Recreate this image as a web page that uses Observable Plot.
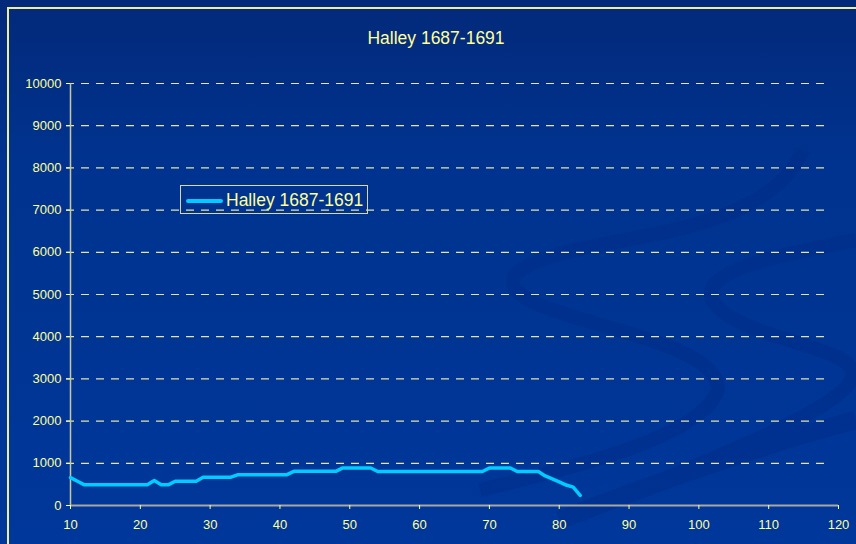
<!DOCTYPE html>
<html>
<head>
<meta charset="utf-8">
<script src="https://cdn.jsdelivr.net/npm/d3@7"></script>
<script src="https://cdn.jsdelivr.net/npm/@observablehq/plot@0.6"></script>
<style>
  html, body { margin: 0; padding: 0; }
  #page {
    position: relative; width: 856px; height: 544px; overflow: hidden;
    background: linear-gradient(to bottom, #03297a 0%, #00338f 30%, #00379a 100%);
    font-family: "Liberation Sans", Arial, sans-serif;
  }
  #frame {
    position: absolute; left: 7px; top: 7px; width: 900px; height: 600px;
    border-top: 2px solid #eeee99; border-left: 2px solid #eeee99;
  }
  #deco { position: absolute; left: 0; top: 0; }
  #title {
    position: absolute; left: 0; top: 28px; width: 872px; text-align: center;
    color: #ffff99; font-size: 17.5px;
  }
  #chart { position: absolute; left: 0; top: 0; }
  #legend {
    position: absolute; left: 180px; top: 185px; width: 188px; height: 29px;
    border: 1px solid #d8d8a0; box-sizing: border-box;
  }
  #legend .swatch {
    position: absolute; left: 5px; top: 13px; width: 37px; height: 4px;
    background: #00ccff; border-radius: 2px;
  }
  #legend .lbl {
    position: absolute; left: 45px; top: 4px; color: #ffff99; font-size: 17.5px;
    white-space: nowrap; line-height: 20px;
  }
</style>
</head>
<body>
<div id="page">
  <svg id="deco" width="856" height="544">
    <g fill="none" stroke="#002b86" stroke-linecap="butt" opacity="0.4">
      <path d="M803,150 C760,250 560,230 515,275 C490,320 720,330 718,390 C700,440 560,470 480,490" stroke-width="14"/>
      <path d="M856,240 C780,255 700,270 712,300 C740,345 880,345 848,385 C820,420 680,470 580,515" stroke-width="14"/>
      <path d="M856,420 C780,440 660,480 560,520" stroke-width="18"/>
    </g>
  </svg>
  <div id="frame"></div>
  <div id="title">Halley 1687-1691</div>
  <div id="chart"></div>
  <div id="legend"><div class="swatch"></div><div class="lbl">Halley 1687-1691</div></div>
</div>
<script>
// Data
const ages = [10,11,12,13,14,15,16,17,18,19,20,21,22,23,24,25,26,27,28,29,30,31,32,33,34,35,36,37,38,39,40,41,42,43,44,45,46,47,48,49,50,51,52,53,54,55,56,57,58,59,60,61,62,63,64,65,66,67,68,69,70,71,72,73,74,75,76,77,78,79,80,81,82,83];
const halley = [660,575,490,490,490,490,490,490,490,490,490,490,590,490,490,575,575,575,575,670,670,670,670,670,730,730,730,730,730,730,730,730,810,810,810,810,810,810,810,890,890,890,890,890,805,805,805,805,805,805,805,805,805,805,805,805,805,805,805,805,890,890,890,890,805,805,805,805,700,630,560,485,435,240];
const yTicks = [0,1000,2000,3000,4000,5000,6000,7000,8000,9000,10000];
const xTicks = [10,20,30,40,50,60,70,80,90,100,110,120];
const seriesName = "Halley 1687-1691";

const rows = ages.map((a, i) => ({age: a, value: halley[i]}));

const chart = Plot.plot({
  width: 856,
  height: 544,
  marginLeft: 70,
  marginRight: 18,
  marginTop: 83,
  marginBottom: 39,
  style: {background: "transparent", color: "#ffff99", fontFamily: "Liberation Sans, Arial, sans-serif", fontSize: "13px", overflow: "visible"},
  x: {domain: [10, 120]},
  y: {domain: [0, 10000]},
  marks: [
    Plot.ruleY(yTicks.filter(d => d > 0), {stroke: "#e4e4aa", strokeWidth: 1.2, strokeDasharray: "8,7", insetLeft: -4, insetRight: 7}),
    Plot.ruleX([10], {y1: 0, y2: 10000, stroke: "#c8c8a0", strokeWidth: 1.5}),
    Plot.ruleY([0], {stroke: "#a8a8a0", strokeWidth: 2}),
    Plot.axisY(yTicks, {tickSize: 4, tickPadding: 5, tickFormat: d => String(d), color: "#ffff99", fontSize: 13, label: null}),
    Plot.axisX(xTicks, {tickSize: 4, tickPadding: 10, tickFormat: d => String(d), color: "#ffff99", fontSize: 13, label: null}),
    Plot.line(rows, {x: "age", y: "value", stroke: "#00ccff", strokeWidth: 3.5, strokeLinejoin: "round", strokeLinecap: "round"})
  ]
});
document.getElementById("chart").appendChild(chart);
</script>
</body>
</html>
